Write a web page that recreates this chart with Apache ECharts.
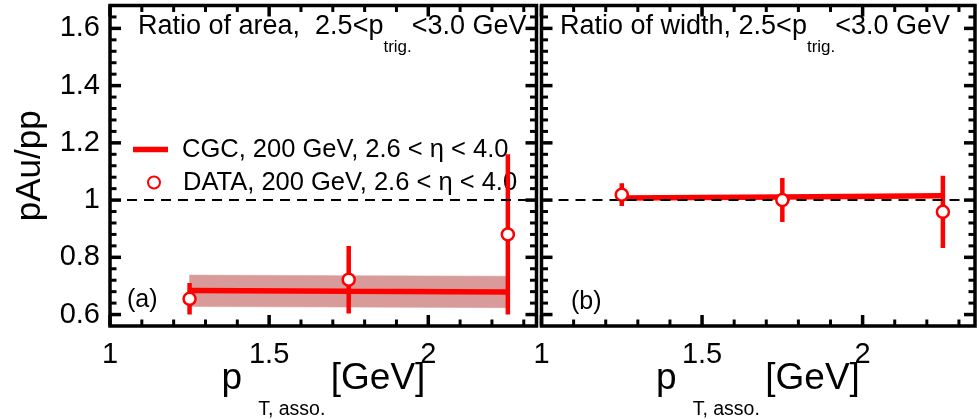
<!DOCTYPE html>
<html><head><meta charset="utf-8">
<script src="https://cdn.jsdelivr.net/npm/echarts@6/dist/echarts.min.js"></script>
<style>html,body{margin:0;padding:0;background:#fff}#c{width:979px;height:419px}</style>
</head><body><div id="c"></div>
<script>
// ---- data ----
const ptAsso = [1.25, 1.75, 2.25];
const areaData = [0.655, 0.722, 0.88];
const areaErr = [0.055, 0.118, 0.28];
const areaCgc = [0.684, 0.681, 0.679];
const areaCgcLow = [0.628, 0.626, 0.624];
const areaCgcHigh = [0.738, 0.736, 0.734];
const widthData = [1.019, 1.0, 0.959];
const widthErr = [0.04, 0.077, 0.126];
const widthCgc = [1.007, 1.011, 1.015];
const xTicks = [1, 1.5, 2];
const xTickLabels = ['1', '1.5', '2'];
const xMinorTicks = [1.1, 1.2, 1.3, 1.4, 1.6, 1.7, 1.8, 1.9, 2.1, 2.2, 2.3];
const yTicks = [0.6, 0.8, 1.0, 1.2, 1.4, 1.6];
const yTickLabels = ['0.6', '0.8', '1', '1.2', '1.4', '1.6'];
const yMinorTicks = [0.64, 0.68, 0.72, 0.76, 0.84, 0.88, 0.92, 0.96, 1.04, 1.08, 1.12, 1.16,
                     1.24, 1.28, 1.32, 1.36, 1.44, 1.48, 1.52, 1.56, 1.64];
const cgcName = 'CGC, 200 GeV, 2.6 < η < 4.0';
const dataName = 'DATA, 200 GeV, 2.6 < η < 4.0';
const titleA = ['Ratio of area,  2.5<p', 'trig.', '<3.0 GeV'];
const titleB = ['Ratio of width, 2.5<p', 'trig.', '<3.0 GeV'];
const xTitle = ['p', 'T, asso. ', '[GeV]'];
const yTitle = 'pAu/pp';

// ---- style ----
const FONT = "'Liberation Sans', Arial, Helvetica, sans-serif";
const RED = '#ff0000';
const BAND = '#d99a9a';

function pick(ticks, labels) {
  return function (v) {
    for (let i = 0; i < ticks.length; i++) if (Math.abs(v - ticks[i]) < 1e-6) return labels[i];
    return '';
  };
}
const zip = (a, b) => a.map((v, i) => [v, b[i]]);
const zip3 = (a, b, c) => a.map((v, i) => [v, b[i], c[i]]);

function xAxis(grid, pos, max, labels) {
  return {
    type: 'value', gridIndex: grid, position: pos, min: 1, max: max, interval: 0.5,
    axisLine: {show: false, onZero: false}, splitLine: {show: false},
    axisTick: {show: false}, minorTick: {show: false},
    axisLabel: {show: labels, margin: 14, fontSize: 29, color: '#000', fontFamily: FONT,
      showMaxLabel: false, formatter: pick(xTicks, xTickLabels)}
  };
}
function yAxis(grid, pos, labels) {
  return {
    type: 'value', gridIndex: grid, position: pos, min: 0.56, max: 1.68, splitNumber: 5,
    axisLine: {show: false, onZero: false}, splitLine: {show: false},
    axisTick: {show: false}, minorTick: {show: false},
    axisLabel: {show: labels, margin: 10, fontSize: 29, color: '#000', fontFamily: FONT,
      showMinLabel: false, showMaxLabel: false, formatter: pick(yTicks, yTickLabels)},
    name: labels ? yTitle : '', nameLocation: 'middle', nameRotate: 90, nameGap: 62,
    nameTextStyle: {fontSize: 35, color: '#000', fontFamily: FONT}
  };
}
// tick marks on all four frame sides, placed through the axis scales
const tickItems = [].concat(
  xTicks.map(v => [v, 0]), xMinorTicks.map(v => [v, 1]),
  yTicks.map(v => [v, 2]), yMinorTicks.map(v => [v, 3]));
function tickRender(params, api) {
  const v = api.value(0), kind = api.value(1);
  const cs = params.coordSys;
  const major = (kind === 0 || kind === 2);
  const len = major ? 11 : 6.5;
  const lw = major ? 3.5 : 3;
  let segs;
  if (kind < 2) {
    const px = api.coord([v, 1])[0];
    segs = [[px, cs.y, px, cs.y + len], [px, cs.y + cs.height, px, cs.y + cs.height - len]];
  } else {
    const py = api.coord([1.5, v])[1];
    segs = [[cs.x, py, cs.x + len, py], [cs.x + cs.width, py, cs.x + cs.width - len, py]];
  }
  return {type: 'group', children: segs.map(s => ({type: 'line',
    shape: {x1: s[0], y1: s[1], x2: s[2], y2: s[3]}, style: {stroke: '#000', lineWidth: lw}}))};
}
function errRender(params, api) {
  const x = api.value(0), y = api.value(1), e = api.value(2);
  const p1 = api.coord([x, y - e]), p2 = api.coord([x, y + e]);
  return {type: 'line', shape: {x1: p1[0], y1: p1[1], x2: p2[0], y2: p2[1]},
    style: {stroke: RED, lineWidth: 4.5}};
}
function bandRender(params, api) {
  const i = params.dataIndex;
  if (i >= ptAsso.length - 1) return null;
  const pts = [
    api.coord([ptAsso[i], areaCgcLow[i]]), api.coord([ptAsso[i + 1], areaCgcLow[i + 1]]),
    api.coord([ptAsso[i + 1], areaCgcHigh[i + 1]]), api.coord([ptAsso[i], areaCgcHigh[i]])
  ];
  return {type: 'polygon', shape: {points: pts}, style: {fill: BAND, stroke: BAND, lineWidth: 0.5}};
}
const dashed = {silent: true, symbol: ['none', 'none'], label: {show: false},
  lineStyle: {color: '#000', type: [10, 7], width: 2}, data: [{yAxis: 1}]};

function titleText(x, parts) {
  return {type: 'text', x: x, y: 13, z: 100, style: {
    text: '{m|' + parts[0] + '}{s|' + parts[1] + '}{m|' + parts[2] + '}',
    fill: '#000', font: '27px ' + FONT,
    rich: {
      m: {fontSize: 27, lineHeight: 28, verticalAlign: 'top', fontFamily: FONT, fill: '#000'},
      s: {fontSize: 17, lineHeight: 18, padding: [26, 0, 0, 0], verticalAlign: 'top', fontFamily: FONT, fill: '#000'}
    }}};
}
function xTitleText(cx) {
  return {type: 'text', x: cx, y: 360, z: 100, style: {
    text: '{p|' + xTitle[0] + '}{s|' + xTitle[1] + '}{g|' + xTitle[2] + '}',
    fill: '#000', font: '37px ' + FONT, align: 'center', verticalAlign: 'top',
    rich: {
      p: {fontSize: 37, lineHeight: 40, verticalAlign: 'top', fontFamily: FONT, fill: '#000'},
      s: {fontSize: 19.5, lineHeight: 20, padding: [40, 0, 0, 16], verticalAlign: 'top', fontFamily: FONT, fill: '#000'},
      g: {fontSize: 37, lineHeight: 40, verticalAlign: 'top', fontFamily: FONT, fill: '#000'}
    }}};
}

const chart = echarts.init(document.getElementById('c'), null, {renderer: 'canvas'});
chart.setOption({
  animation: false,
  backgroundColor: '#fff',
  textStyle: {fontFamily: FONT},
  grid: [
    {left: 110, top: 5.5, width: 426.5, height: 320.5, containLabel: false, outerBoundsMode: 'none',
      show: true, borderColor: '#000', borderWidth: 3.5, backgroundColor: 'transparent'},
    {left: 541.5, top: 5.5, width: 433.5, height: 320.5, containLabel: false, outerBoundsMode: 'none',
      show: true, borderColor: '#000', borderWidth: 3.5, backgroundColor: 'transparent'}
  ],
  xAxis: [xAxis(0, 'bottom', 2.34, true), xAxis(1, 'bottom', 2.35, true)],
  yAxis: [yAxis(0, 'left', true), yAxis(1, 'left', false)],
  legend: [
    {data: [{name: cgcName, icon: 'rect'}], left: 128, top: 131.5,
      itemWidth: 35, itemHeight: 5.5, selectedMode: false, itemStyle: {color: RED, borderWidth: 0},
      textStyle: {fontSize: 25.5, lineHeight: 25, color: '#000', fontFamily: FONT, padding: [0, 0, 0, 9]}},
    {data: [{name: dataName}], left: 142, top: 164.5,
      itemWidth: 12, itemHeight: 12, selectedMode: false,
      textStyle: {fontSize: 25.5, lineHeight: 25, color: '#000', fontFamily: FONT, padding: [0, 0, 0, 18]}}
  ],
  graphic: [
    titleText(138, titleA),
    titleText(560, titleB),
    xTitleText(323.5),
    xTitleText(758),
    {type: 'text', x: 127, y: 287.5, z: 100, style: {text: '(a)', font: '25px ' + FONT, fill: '#000'}},
    {type: 'text', x: 571, y: 289.5, z: 100, style: {text: '(b)', font: '25px ' + FONT, fill: '#000'}}
  ],
  series: [
    {type: 'custom', xAxisIndex: 0, yAxisIndex: 0, renderItem: tickRender, clip: false, silent: true,
      data: tickItems, z: 6},
    {type: 'custom', xAxisIndex: 1, yAxisIndex: 1, renderItem: tickRender, clip: false, silent: true,
      data: tickItems, z: 6},

    {type: 'custom', xAxisIndex: 0, yAxisIndex: 0, renderItem: bandRender, clip: true, silent: true,
      data: zip(ptAsso, areaCgc), z: 1},
    {type: 'line', name: cgcName, xAxisIndex: 0, yAxisIndex: 0, symbol: 'none', showSymbol: false,
      lineStyle: {color: RED, width: 5.5}, itemStyle: {color: RED}, data: zip(ptAsso, areaCgc), z: 3,
      markLine: dashed},
    {type: 'custom', xAxisIndex: 0, yAxisIndex: 0, renderItem: errRender, clip: true,
      data: zip3(ptAsso, areaData, areaErr), z: 4},
    {type: 'scatter', name: dataName, xAxisIndex: 0, yAxisIndex: 0, symbol: 'circle', symbolSize: 12,
      itemStyle: {color: '#fff', borderColor: RED, borderWidth: 2.5, opacity: 1},
      data: zip(ptAsso, areaData), z: 5},

    {type: 'line', name: cgcName, xAxisIndex: 1, yAxisIndex: 1, symbol: 'none', showSymbol: false,
      lineStyle: {color: RED, width: 5.5}, itemStyle: {color: RED}, data: zip(ptAsso, widthCgc), z: 3,
      markLine: dashed},
    {type: 'custom', xAxisIndex: 1, yAxisIndex: 1, renderItem: errRender, clip: true,
      data: zip3(ptAsso, widthData, widthErr), z: 4},
    {type: 'scatter', name: dataName, xAxisIndex: 1, yAxisIndex: 1, symbol: 'circle', symbolSize: 12,
      itemStyle: {color: '#fff', borderColor: RED, borderWidth: 2.5, opacity: 1},
      data: zip(ptAsso, widthData), z: 5}
  ]
});
</script></body></html>
